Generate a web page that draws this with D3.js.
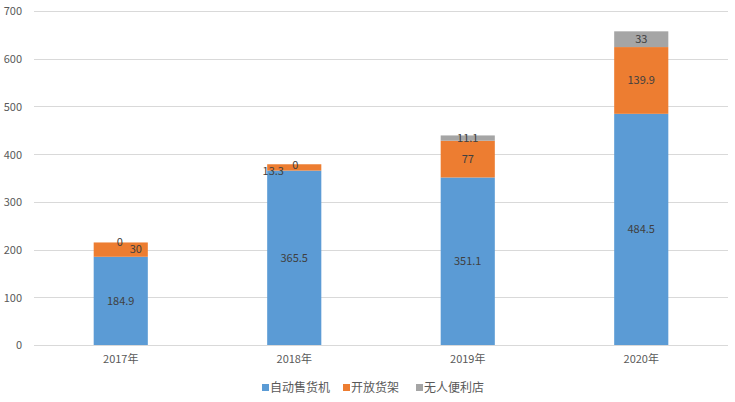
<!DOCTYPE html>
<html><head><meta charset="utf-8">
<script src="https://cdn.jsdelivr.net/npm/d3@7/dist/d3.min.js"></script>
<style>body{margin:0;background:#fff}svg{display:block}text{font-family:"Noto Sans CJK SC","Noto Sans",sans-serif}</style>
</head><body><svg id="c" width="735" height="402"></svg>
<script>
const categories = ["2017年","2018年","2019年","2020年"];
const seriesNames = ["自动售货机","开放货架","无人便利店"];
const vending = [184.9, 365.5, 351.1, 484.5];
const shelves = [30, 13.3, 77, 139.9];
const stores = [0, 0, 11.1, 33];
const yTicks = [0,100,200,300,400,500,600,700];
const colors = ["#5B9BD5","#ED7D31","#A5A5A5"];

const svg = d3.select("#c");
const m = {l:34, r:7, t:11, b:57};
const W = 735, H = 402;
const x = d3.scaleBand().domain(categories).range([m.l, W-m.r]).paddingInner(0.688).paddingOuter(0.344);
const y = d3.scaleLinear().domain([0,700]).range([H-m.b, m.t]);

const rows = categories.map((c,i)=>({cat:c, s0:vending[i], s1:shelves[i], s2:stores[i]}));
const stack = d3.stack().keys(["s0","s1","s2"])(rows);

svg.append("g").selectAll("line").data(yTicks).join("line")
  .attr("x1", m.l).attr("x2", W-m.r)
  .attr("y1", d=>Math.round(y(d))+0.5).attr("y2", d=>Math.round(y(d))+0.5)
  .attr("stroke","#D9D9D9").attr("stroke-width",1);

const ya = svg.append("g").attr("transform",`translate(${m.l-12},0)`)
  .call(d3.axisLeft(y).tickValues(yTicks).tickSize(0).tickPadding(0));
ya.select(".domain").remove();
ya.selectAll("text").attr("fill","#595959").attr("font-size","11px").attr("dy","0.35em");

const xa = svg.append("g").attr("transform",`translate(0,${H-m.b})`)
  .call(d3.axisBottom(x).tickSize(0).tickPadding(10));
xa.select(".domain").remove();
xa.selectAll("text").attr("fill","#595959").attr("font-size","11px");

stack.forEach((layer,k)=>{
  svg.append("g").attr("fill",colors[k]).selectAll("rect").data(layer).join("rect")
    .attr("x", d=>x(d.data.cat)).attr("width", x.bandwidth())
    .attr("y", d=>y(d[1])).attr("height", d=>y(d[0])-y(d[1]));
});

const nudge = {"1-0":[15,0],"2-0":[-1,0],"1-1":[-21,4],"2-1":[1,1]};
stack.forEach((layer,k)=>{
  layer.forEach((d,i)=>{
    const n = nudge[k+"-"+i] || [0,0];
    const vals=[vending,shelves,stores][k];
    svg.append("text")
      .attr("x", x(d.data.cat)+x.bandwidth()/2 + n[0])
      .attr("y", y((d[0]+d[1])/2) + n[1])
      .attr("dy","0.35em").attr("text-anchor","middle")
      .attr("font-size","11px").attr("fill","#404040")
      .text(vals[i]);
  });
});

const lg = svg.append("g");
const lx = [262, 343, 416];
seriesNames.forEach((s,i)=>{
  lg.append("rect").attr("x",lx[i]).attr("y",384).attr("width",7).attr("height",7).attr("fill",colors[i]);
  lg.append("text").attr("x",lx[i]+8).attr("y",387.5).attr("dy","0.35em")
    .attr("font-size","12px").attr("fill","#595959").text(s);
});
</script></body></html>
